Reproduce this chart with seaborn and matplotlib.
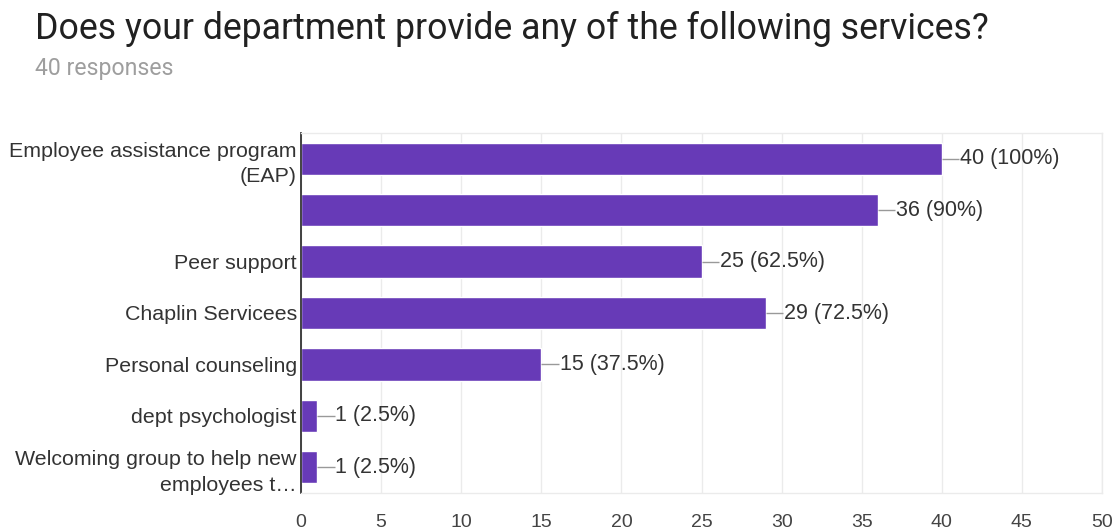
import matplotlib
matplotlib.use("Agg")
import matplotlib.pyplot as plt
import seaborn as sns
import pandas as pd

categories = ["Employee assistance program\n(EAP)", "", "Peer support", "Chaplin Servicees",
              "Personal counseling", "dept psychologist", "Welcoming group to help new\nemployees t…"]
counts = [40, 36, 25, 29, 15, 1, 1]
labels = ["40 (100%)", "36 (90%)", "25 (62.5%)", "29 (72.5%)", "15 (37.5%)", "1 (2.5%)", "1 (2.5%)"]
xticks = [0, 5, 10, 15, 20, 25, 30, 35, 40, 45, 50]

df = pd.DataFrame({"cat": categories, "n": counts})

sns.set_style("white")
plt.rcParams['font.family'] = ['Liberation Sans', 'DejaVu Sans']

fig = plt.figure(figsize=(11.2, 5.29), dpi=100)
ax = fig.add_axes([301/1120, 1-493/529, (1102-301)/1120, (493-133)/529])

sns.barplot(data=df, y="cat", x="n", orient="h", color="#673ab7", saturation=1,
            width=0.63, ax=ax, order=categories)

ax.set_xlim(0, 50)
ax.set_ylim(6.5, -0.5)
ax.set_xticks(xticks)
ax.set_xticklabels([str(t) for t in xticks])
ax.set_xlabel("")
ax.set_ylabel("")
ax.grid(axis="x", color="#ebebeb", linewidth=1)
ax.set_axisbelow(True)
for s in ["top", "right", "bottom"]:
    ax.spines[s].set_color("#ebebeb")
    ax.spines[s].set_linewidth(1)
ax.spines["left"].set_color("#333333")
ax.spines["left"].set_linewidth(1.3)
ax.tick_params(axis="y", length=0, labelsize=15.4, colors="#333333", pad=3)
ax.tick_params(axis="x", length=0, labelsize=14, colors="#444444", pad=15)
for t in ax.get_yticklabels():
    t.set_linespacing(1.45)

for i, (v, lab) in enumerate(zip(counts, labels)):
    ax.plot([v, v + 1.1], [i, i], color="#999999", linewidth=1, solid_capstyle="butt")
    ax.text(v + 1.15, i, lab, va="center", ha="left", fontsize=15.5, color="#333333")

fig.text(35/1120, 1-29/529, "Does your department provide any of the following services?",
         fontsize=25.7, family=["Roboto", "DejaVu Sans"], color="#212121", va="center", ha="left")
fig.text(35/1120, 1-68/529, "40 responses", fontsize=16.6, family=["Roboto", "DejaVu Sans"],
         color="#9e9e9e", va="center", ha="left")

fig.savefig("out.png", dpi=100)
